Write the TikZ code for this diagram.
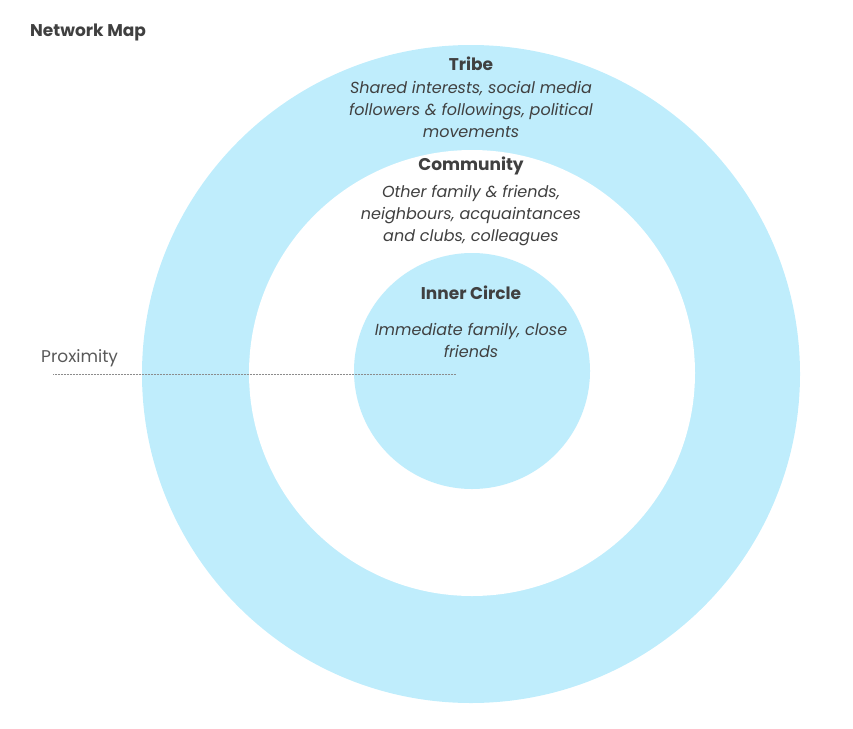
\documentclass[tikz,border=0pt]{standalone}
\usepackage{fontspec}
\setmainfont{Poppins}
\usepackage{tikz}
\usetikzlibrary{positioning}
\definecolor{ringblue}{RGB}{191,237,252}
\definecolor{txtgray}{RGB}{64,64,64}
\definecolor{proxgray}{RGB}{89,89,89}
\tikzset{
  ring/.style={circle, draw=none, inner sep=0pt},
  head/.style={font=\fontsize{17}{20}\selectfont\bfseries, text=txtgray, inner sep=0pt},
  desc/.style={font=\fontsize{16}{22}\selectfont\itshape, text=txtgray, align=center, inner sep=0pt},
  proxline/.style={densely dotted, draw=black!45, line width=0.5pt}
}

\begin{document}
\begin{tikzpicture}[x=1pt, y=-1pt, node distance=10pt]
\useasboundingbox (0,0) rectangle (853,728);
% rings, outside in
\node[ring, fill=ringblue, minimum size=658pt] (tribe) at (471,374) {};
\node[ring, fill=white, minimum size=446pt] (community) at (472,373) {};
\node[ring, fill=ringblue, minimum size=236pt] (inner) at (472,371) {};
% labels
\node[head, anchor=west] (title) at (30,32) {Network Map};
\node[head] (tribehd) at (471,64) {Tribe};
\node[desc, below=of tribehd] (tribetx) {Shared interests, social media\\followers \& followings, political\\movements};
\node[head] (commhd) at (471,166) {Community};
\node[desc, below=of commhd] (commtx) {Other family \& friends,\\neighbours, acquaintances\\and clubs, colleagues};
\node[head] (innerhd) at (471,293) {Inner Circle};
\node[desc, below=23pt of innerhd] (innertx) {Immediate family, close\\friends};
\node[font=\fontsize{17}{20}\selectfont, text=proxgray, anchor=west, inner sep=0pt] (prox) at (41,358) {Proximity};
\coordinate (proxstart) at (53,374);
\coordinate (proxend) at (456,374);
\draw[proxline] (proxstart) -- (proxend);
\end{tikzpicture}
\end{document}
